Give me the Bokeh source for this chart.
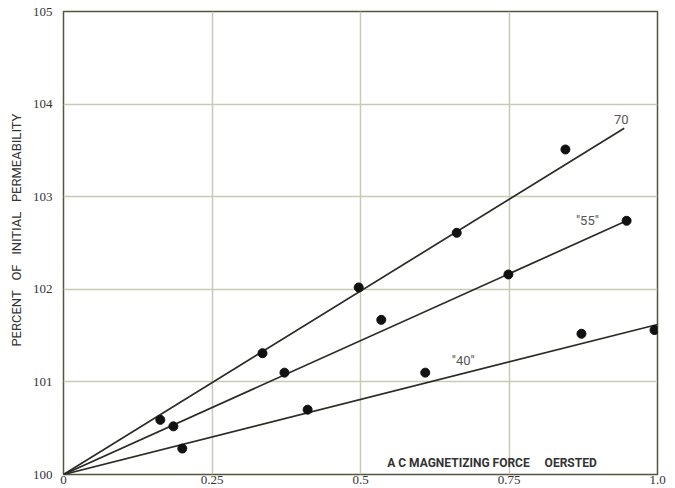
from bokeh.plotting import figure
from bokeh.models import FixedTicker, Label, Range1d
from bokeh.embed import file_html
from bokeh.resources import INLINE

# ---- data ----
x_ticks = [0, 0.25, 0.5, 0.75, 1.0]
x_tick_labels = ["0", "0.25", "0.5", "0.75", "1.0"]
y_ticks = [100, 101, 102, 103, 104, 105]

x70 = [0.163, 0.335, 0.497, 0.662, 0.845]
y70 = [100.59, 101.31, 102.02, 102.61, 103.51]

x55 = [0.185, 0.372, 0.535, 0.749, 0.948]
y55 = [100.52, 101.10, 101.67, 102.16, 102.74]

x40 = [0.200, 0.411, 0.609, 0.872, 0.995]
y40 = [100.28, 100.70, 101.10, 101.52, 101.56]

series_names = ["70", '"55"', '"40"']
line_start_x = [0.0, 0.0, 0.0]
line_start_y = [100.0, 100.0, 100.0]
line_end_x = [0.944, 0.948, 1.0]
line_end_y = [103.74, 102.74, 101.62]
label_x = [0.939, 0.882, 0.673]
label_y = [103.83, 102.74, 101.23]

NB = "\u00a0"
x_title = "A" + NB + "C" + NB + "MAGNETIZING" + NB + "FORCE" + NB * 5 + "OERSTED"
y_title = NB * 8 + "PERCENT" + NB * 3 + "OF" + NB * 3 + "INITIAL" + NB * 3 + "PERMEABILITY"

# ---- figure ----
p = figure(width=672, height=486, output_backend="svg", toolbar_location=None,
           x_range=Range1d(0, 1.0), y_range=Range1d(100, 105),
           min_border_left=63, min_border_right=15, min_border_top=11, min_border_bottom=11)
p.background_fill_color = "white"
p.border_fill_color = "white"
p.outline_line_color = "#55553f"
p.outline_line_width = 1.5

grid_color = "#c9c9b4"
p.xgrid.ticker = FixedTicker(ticks=x_ticks)
p.ygrid.ticker = FixedTicker(ticks=y_ticks)
for g in (p.xgrid, p.ygrid):
    g.grid_line_color = grid_color
    g.grid_line_width = 1.5

p.xaxis.ticker = FixedTicker(ticks=x_ticks)
p.xaxis.major_label_overrides = {t: s for t, s in zip(x_ticks, x_tick_labels)}
p.yaxis.ticker = FixedTicker(ticks=y_ticks)
for ax in (p.xaxis, p.yaxis):
    ax.axis_line_color = None
    ax.major_tick_line_color = None
    ax.minor_tick_line_color = None
    ax.major_tick_out = 0
    ax.major_tick_in = 0
    ax.major_label_text_font = "Liberation Serif"
    ax.major_label_text_font_size = "13px"
    ax.major_label_text_color = "#333333"
p.xaxis.major_label_standoff = 1
p.yaxis.major_label_standoff = 11

p.yaxis.axis_label = y_title
p.yaxis.axis_label_text_font = "Roboto"
p.yaxis.axis_label_text_font_size = "13px"
p.yaxis.axis_label_text_font_style = "normal"
p.yaxis.axis_label_text_color = "#333333"
p.yaxis.axis_label_standoff = 6

# fitted lines
for sx, sy, ex, ey in zip(line_start_x, line_start_y, line_end_x, line_end_y):
    p.line([sx, ex], [sy, ey], line_color="#2b2b25", line_width=1.7)

# measured points
for xs, ys in ((x70, y70), (x55, y55), (x40, y40)):
    p.scatter(xs, ys, size=9, color="#111111")

# series labels
for name, lx, ly in zip(series_names, label_x, label_y):
    p.add_layout(Label(x=lx, y=ly, text=name, text_align="center", text_baseline="middle",
                       text_font="Roboto", text_font_size="13px", text_color="#555555"))

# axis title inside the plot
p.add_layout(Label(x=0.545, y=100.05, text=x_title, text_align="left", text_baseline="bottom",
                   text_font="Roboto", text_font_size="12px", text_font_style="bold",
                   text_color="#333333"))

open("out.html", "w").write(file_html(p, INLINE))
